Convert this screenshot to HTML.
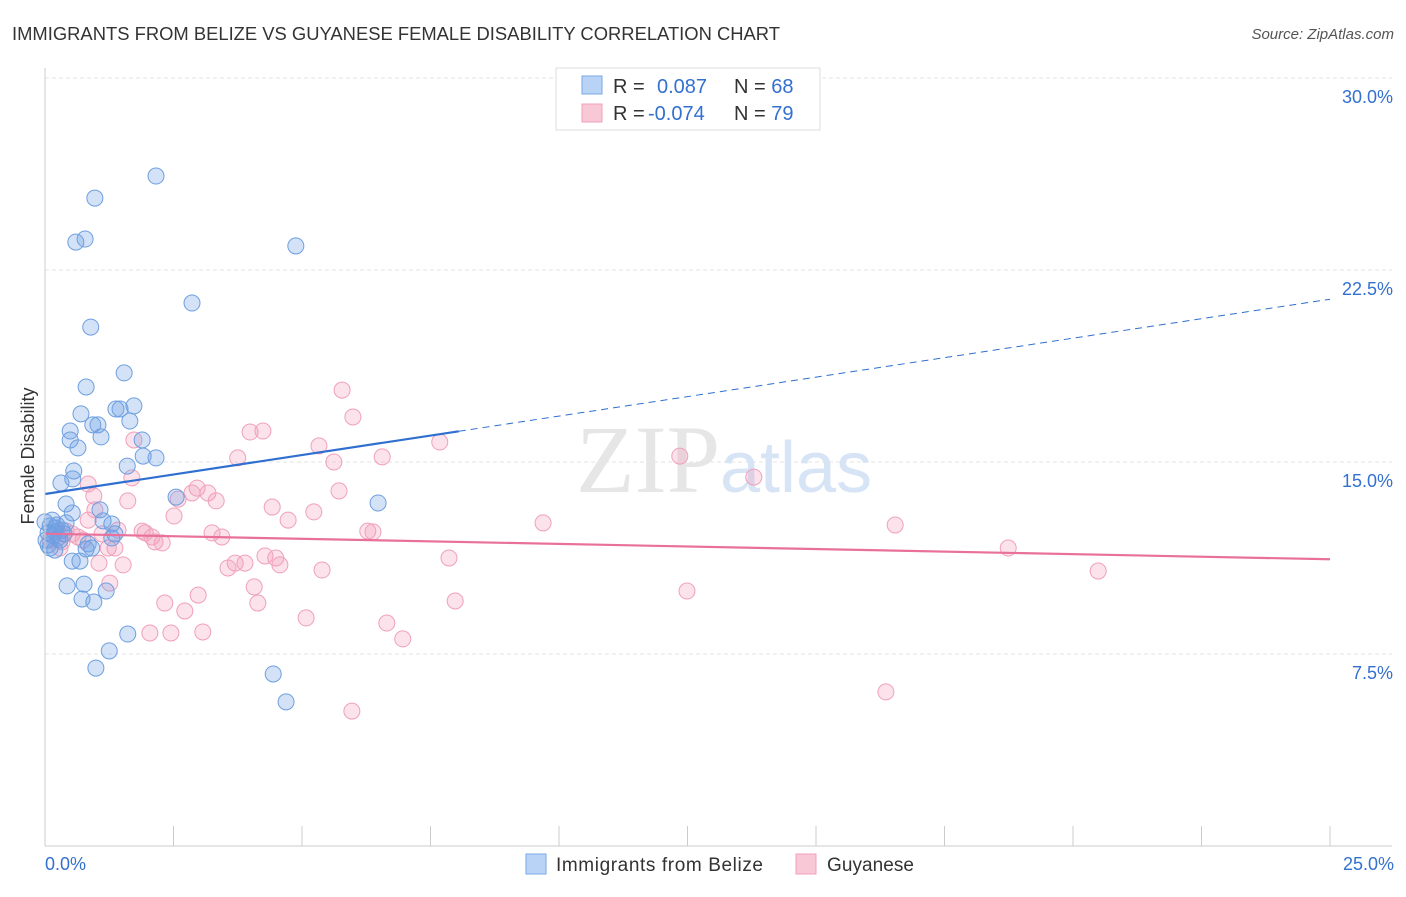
<!DOCTYPE html>
<html><head><meta charset="utf-8"><style>
body{margin:0;background:#fff;font-family:"Liberation Sans",sans-serif;}
</style></head><body>
<svg width="1406" height="892" xmlns="http://www.w3.org/2000/svg" font-family="Liberation Sans, sans-serif">
<text x="12" y="40" font-size="18" fill="#333" textLength="768" lengthAdjust="spacingAndGlyphs">IMMIGRANTS FROM BELIZE VS GUYANESE FEMALE DISABILITY CORRELATION CHART</text>
<text x="1394" y="39" font-size="15" fill="#555" text-anchor="end" font-style="italic">Source: ZipAtlas.com</text>
<g id="grid"></g>
<text x="720" y="492" font-size="96" fill="#e6e6e6" text-anchor="end" font-family="Liberation Serif, serif">ZIP</text>
<text x="720" y="492" font-size="72" fill="#d6e4f5">atlas</text>
<g id="pts"></g>
<g id="trend"></g>
<g id="axes"></g>
<text transform="translate(34,456) rotate(-90)" font-size="18" fill="#333" text-anchor="middle">Female Disability</text>
<g>
<rect x="556" y="68" width="264" height="62" fill="#fff" stroke="#ddd"/>
<rect x="582" y="76" width="20" height="18" fill="#b8d3f5" stroke="#7aa8e6"/>
<rect x="582" y="104" width="20" height="18" fill="#f9c8d7" stroke="#f0a0bb"/>
<text x="613" y="93" font-size="20" fill="#333">R = <tspan fill="#3370d0" x="657">0.087</tspan><tspan x="734" fill="#333">N = </tspan><tspan fill="#3370d0">68</tspan></text>
<text x="613" y="120" font-size="20" fill="#333">R = <tspan fill="#3370d0" x="648">-0.074</tspan><tspan x="734" fill="#333">N = </tspan><tspan fill="#3370d0">79</tspan></text>
</g>
<g>
<rect x="526" y="854" width="20" height="20" fill="#b8d3f5" stroke="#7aa8e6"/>
<text x="556" y="871" font-size="19" fill="#333" textLength="207">Immigrants from Belize</text>
<rect x="796" y="854" width="20" height="20" fill="#f9c8d7" stroke="#f0a0bb"/>
<text x="827" y="871" font-size="19" fill="#333" textLength="87">Guyanese</text>
</g>
</svg>
<script>
const yTicks=[7.5,15,22.5,30];
const yTickLabels=["7.5%","15.0%","22.5%","30.0%"];
const blueX=[2.16,0.97,0.60,0.78,4.88,2.86,0.89,1.54,0.80,1.73,1.38,1.46,0.70,0.93,1.03,1.65,0.49,1.09,1.89,0.49,0.64,2.16,1.91,1.60,0.56,0.54,0.31,2.55,6.48,0.41,1.07,0.53,1.13,1.30,0.41,0.10,0.21,0.33,0.06,0.16,0.25,0.02,0.29,1.36,1.30,0.84,0.91,0.80,0.19,0.10,0.53,0.68,0.43,0.76,1.19,0.72,0.95,1.61,1.25,0.99,4.44,4.69,0.14,0.19,0.37,0.23,0,0.06];
const blueY=[26.17,25.31,23.59,23.71,23.44,21.21,20.27,18.48,17.93,17.19,17.07,17.07,16.88,16.45,16.45,16.60,16.21,15.98,15.86,15.86,15.55,15.16,15.23,14.84,14.65,14.34,14.18,13.63,13.40,13.36,13.13,13.01,12.70,12.58,12.62,12.50,12.42,12.34,12.23,12.11,12.03,11.95,11.95,12.19,12.03,11.80,11.64,11.60,11.56,11.64,11.13,11.13,10.16,10.23,9.96,9.65,9.53,8.28,7.62,6.95,6.72,5.63,12.73,12.27,12.19,12.54,12.66,11.76];
const pinkX=[5.78,5.99,3.99,4.24,1.73,5.33,7.68,3.75,6.56,5.62,12.35,13.79,0.84,1.69,2.96,5.72,0.95,2.86,3.17,1.61,2.59,3.33,4.42,5.23,2.51,4.73,9.69,16.54,6.28,6.38,3.25,3.44,1.42,1.89,1.95,2.14,2.28,2.08,0.53,0.64,0.41,1.23,4.28,4.49,4.57,7.86,18.74,3.70,3.89,3.56,1.05,1.52,5.39,20.49,1.26,4.07,2.98,12.49,2.33,2.72,4.14,7.98,5.08,6.65,6.96,2.04,2.45,3.07,16.36,5.97,0.29,0.23,0.74,1.11,1.36,0.10,0.33,0.84,0.97];
const pinkY=[17.81,16.76,16.17,16.21,15.86,15.63,15.78,15.16,15.20,15.0,15.23,14.41,14.14,14.38,13.98,13.87,13.67,13.79,13.79,13.48,13.55,13.48,13.24,13.05,12.89,12.73,12.62,12.54,12.30,12.27,12.23,12.07,12.34,12.30,12.23,11.88,11.84,12.07,12.19,12.07,12.30,11.64,11.33,11.25,10.98,11.25,11.64,11.05,11.05,10.86,11.05,10.98,10.78,10.74,10.27,10.12,9.80,9.96,9.49,9.18,9.49,9.57,8.91,8.71,8.09,8.32,8.32,8.36,6.02,5.27,11.64,12.30,11.95,12.19,11.64,11.95,11.88,12.73,13.13];
const blueTrend=[13.75,16.2];
const pinkTrend=[12.2,11.2];
const X0=45,X1=1330,Y0=846,PX=192/7.5;
const sx=v=>X0+v/25*(X1-X0);
const sy=v=>Y0-v*PX;
const NS="http://www.w3.org/2000/svg";
function mk(t,a,p){const e=document.createElementNS(NS,t);for(const k in a)e.setAttribute(k,a[k]);p.appendChild(e);return e;}
const grid=document.getElementById('grid');
yTicks.forEach((t,i)=>{
 const l=mk('line',{x1:X0,x2:1392,y1:sy(t),y2:sy(t),stroke:'#e3e3e3','stroke-dasharray':'4,3'},grid);
 
 
 const tx=mk('text',{x:1393,y:sy(t)+25,'font-size':18,fill:'#3370d0','text-anchor':'end'},grid);
 tx.textContent=yTickLabels[i];
 
 
});
const axes=document.getElementById('axes');
const ya=mk('line',{x1:X0,x2:X0,y1:68,y2:Y0,stroke:'#ccc'},axes);


const xa=mk('line',{x1:X0,x2:1392,y1:Y0,y2:Y0,stroke:'#ccc'},axes);


for(let i=0;i<=10;i++){
 const t=mk('line',{x1:sx(i*2.5),x2:sx(i*2.5),y1:826,y2:Y0,stroke:'#ccc'},axes);
 
 
}
const xl0=mk('text',{x:45,y:870,'font-size':18,fill:'#3370d0'},axes);xl0.textContent='0.0%';


const xl1=mk('text',{x:1394,y:870,'font-size':18,fill:'#3370d0','text-anchor':'end'},axes);xl1.textContent='25.0%';


const pts=document.getElementById('pts');
pinkX.forEach((x,i)=>{const c=mk('circle',{cx:sx(x),cy:sy(pinkY[i]),r:8,fill:'rgba(243,160,190,0.3)',stroke:'#f0a0bb','stroke-width':1},pts);
 
 });
blueX.forEach((x,i)=>{const c=mk('circle',{cx:sx(x),cy:sy(blueY[i]),r:8,fill:'rgba(110,160,230,0.3)',stroke:'#6e9fe0','stroke-width':1},pts);
 
 });
const tr=document.getElementById('trend');
const bx=8.05, bAt=v=>blueTrend[0]+(blueTrend[1]-blueTrend[0])*v/bx;
const b1=mk('line',{x1:sx(0),y1:sy(bAt(0)),x2:sx(bx),y2:sy(bAt(bx)),stroke:'#2f6fd0','stroke-width':2.2},tr);


const b2=mk('line',{x1:sx(bx),y1:sy(bAt(bx)),x2:sx(25),y2:sy(bAt(25)),stroke:'#2f6fd0','stroke-width':1,'stroke-dasharray':'7,5'},tr);


const p1=mk('line',{x1:sx(0),y1:sy(pinkTrend[0]),x2:sx(25),y2:sy(pinkTrend[1]),stroke:'#e8709a','stroke-width':2.2},tr);


</script>
</body></html>
